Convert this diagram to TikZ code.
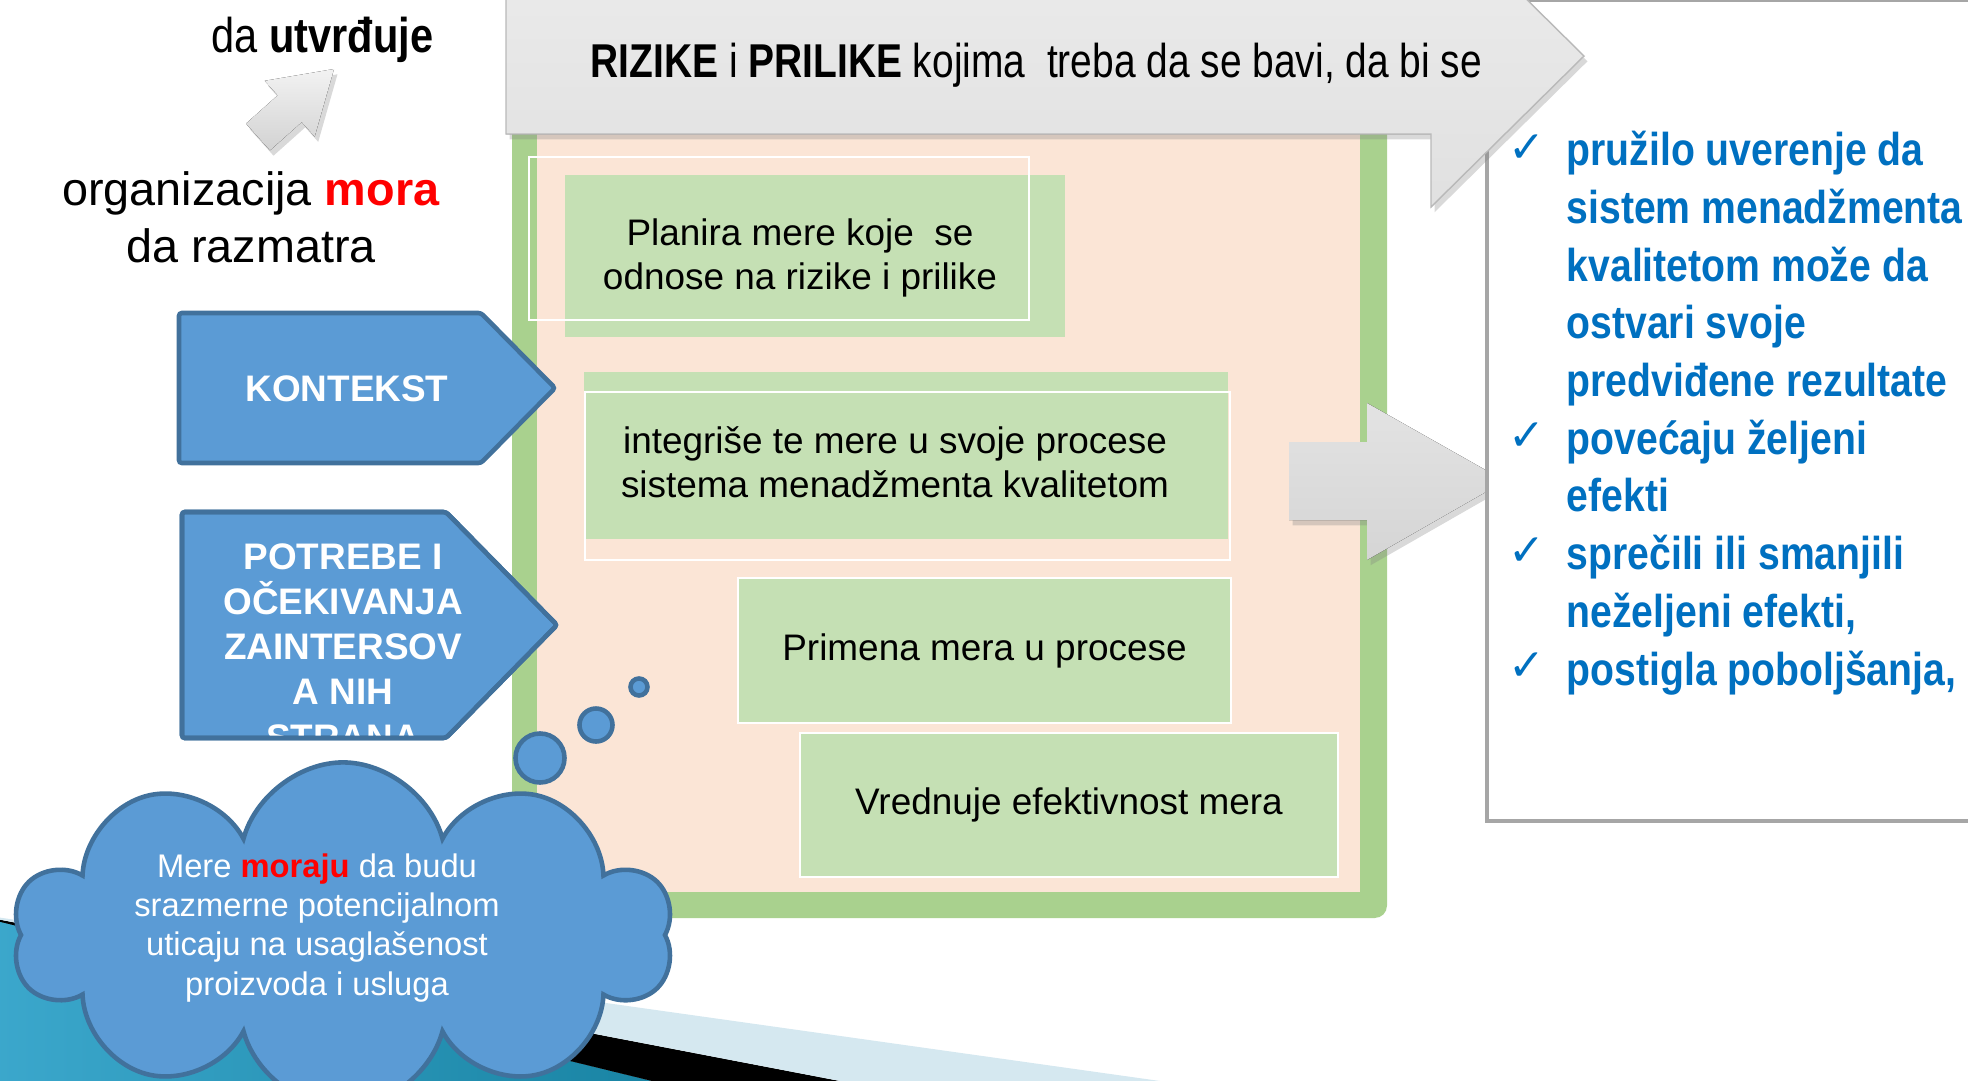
\documentclass[tikz,border=0pt]{standalone}
\usepackage{fontspec}
\setmainfont{Liberation Sans}
\newfontfamily\narrowfont{Liberation Sans}[FakeStretch=0.82]
\newfontfamily\listfont{Liberation Sans}[FakeStretch=0.85]
\newfontfamily\tickfont{DejaVu Sans}
\usepackage{tikz}
\usetikzlibrary{calc,shadows,shapes.symbols}
\definecolor{peach}{HTML}{FBE5D6}
\definecolor{framegreen}{HTML}{A9D18E}
\definecolor{boxgreen}{HTML}{C5E0B4}
\definecolor{tagblue}{HTML}{5B9BD5}
\definecolor{tagedge}{HTML}{41719C}
\definecolor{listblue}{HTML}{0070C0}
\definecolor{panelgray}{HTML}{A6A6A6}
\definecolor{bandlight}{HTML}{D5E8F0}
\definecolor{tealdark}{HTML}{15809F}
\definecolor{teallight}{HTML}{3DA9CE}
\def\tagarrow[#1](#2,#3)(#4,#5)(#6){\draw[#1] (#2,#3) -- (#4,#3) -- (#6,{(#3+#5)/2}) -- (#4,#5) -- (#2,#5) -- cycle;}

\begin{document}
\begin{tikzpicture}[x=0.01cm, y=-0.01cm,
    tag/.style={fill=tagblue, draw=tagedge, line width=1.3pt, rounded corners=0.8pt},
    tagline/.style={draw=tagedge, line width=1.3pt, rounded corners=0.8pt},
    tagtext/.style={text=white, font=\bfseries\fontsize{10.5}{12.8}\selectfont, align=center, anchor=base, inner sep=0pt},
    rim/.style={draw=white, line width=0.7pt},
    boxtext/.style={font=\fontsize{10.5}{12.5}\selectfont, align=center, anchor=base, inner sep=0pt},
    stepbox/.style={fill=boxgreen, rim, font=\fontsize{10.5}{12.5}\selectfont, inner sep=0pt},
    bubble/.style={circle, fill=tagblue, draw=tagedge, line width=1.3pt, inner sep=0pt},
    tick/.style={anchor=base west, inner sep=0pt, text=listblue, font=\tickfont\fontsize{12.5}{12.5}\selectfont},
    softshade/.style={drop shadow={opacity=0.3, shadow xshift=1pt, shadow yshift=-1.5pt}}]
		%%%%% START %%%%%
		
		\useasboundingbox (0,0) rectangle (1968,1081);
		\clip (0,0) rectangle (1968,1081);
		
		\fill[left color=teallight, right color=tealdark] (-40,912) -- (730,1100) -- (-40,1100) -- cycle;
		\fill[black] (-40,912) -- (939,1100) -- (730,1100) -- cycle;
		\fill[bandlight] (-40,912) -- (1295,1100) -- (939,1100) -- cycle;
		
		\fill[framegreen, rounded corners=3.5pt] (512,100) rectangle (1387,918);
		\fill[peach] (537,100) rectangle (1360,892);
		
		\fill[boxgreen] (565,175) rectangle (1065,337);
		\draw[rim] (529,157) rectangle (1029,320);
		\node[boxtext] (plan) at (800,289) {Planira mere koje\ \ se\\odnose na rizike i prilike};
		
		\fill[boxgreen] (584,372) rectangle (1228,539);
		\draw[rim] (585,392) rectangle (1230,560);
		\node[boxtext] (merge) at (895,497) {integriše te mere u svoje procese\\sistema menadžmenta kvalitetom};
		
		\node[stepbox, minimum width=4.93cm, minimum height=1.45cm] (apply) at (984.5,650.5) {Primena mera u procese};
		\node[stepbox, minimum width=5.38cm, minimum height=1.44cm] (rate) at (1069,805) {Vrednuje efektivnost mera};
		
		\tagarrow[tag](179,313)(481,463)(555)
		\node[tagtext] (context) at (347,401) {KONTEKST};
		
		\tagarrow[tag](182,512)(446,738)(557)
		\begin{scope}
			\clip (182,512) -- (446,512) -- (557,625) -- (446,738) -- (182,738) -- cycle;
			\node[tagtext] (needs) at (343,750) {POTREBE I\\OČEKIVANJA\\ZAINTERSOV\\A NIH\\STRANA};
		\end{scope}
		\tagarrow[tagline](182,512)(446,738)(557)
		
		\fill[top color=gray!22, bottom color=gray!33, softshade] (1289,442) -- (1367,442) -- (1367,403) -- (1505,481) -- (1367,560) -- (1367,520) -- (1289,520) -- cycle;
		
		\fill[white] (1487,0) rectangle (2000,821);
		\draw[panelgray, line width=1.2pt] (2000,0) -- (1487,0) -- (1487,821) -- (2000,821);
		
		\fill[top color=gray!14, bottom color=gray!24, draw=gray!55, line width=0.4pt, softshade] (506,-95) -- (1431,-95) -- (1584,56) -- (1431,207) -- (1431,134) -- (506,134) -- cycle;
		\node[anchor=base west, inner sep=0pt, font=\narrowfont\fontsize{13.5}{16}\selectfont] (risks) at (590,77) {\textbf{RIZIKE} i \textbf{PRILIKE} kojima\ \ treba da se bavi, da bi se};
		
		\node[anchor=base west, inner sep=0pt, align=left, text=listblue, font=\listfont\bfseries\fontsize{13.1}{16.4}\selectfont] (goals) at (1566,685) {pružilo uverenje da\\sistem menadžmenta\\kvalitetom može da\\ostvari svoje\\predviđene rezultate\\povećaju željeni\\efekti\\sprečili ili smanjili\\neželjeni efekti,\\postigla poboljšanja,};
		\node[tick] (tickA) at (1508,162) {✓};
		\node[tick] (tickB) at (1508,450) {✓};
		\node[tick] (tickC) at (1508,565) {✓};
		\node[tick] (tickD) at (1508,680) {✓};
		
		\node[anchor=base west, inner sep=0pt, font=\listfont\fontsize{13.9}{16}\selectfont] (verb) at (211,52) {da \textbf{utvrđuje}};
		\fill[top color=gray!10, bottom color=gray!35, softshade] (246,123.6) -- (270,150.4) -- (301.7,122.1) -- (314.7,136.6) -- (334,69) -- (264.7,80.8) -- (277.7,95.3) -- cycle;
		\node[anchor=base, align=center, inner sep=0pt, font=\fontsize{13.3}{16.2}\selectfont] (org) at (251,262) {organizacija \textcolor{red}{\textbf{mora}}\\da razmatra};
		
		\node[cloud, cloud puffs=10, aspect=2, fill=tagblue, draw=tagedge, line width=1.3pt, minimum width=6.6cm, minimum height=3.45cm] (note) at (343,935) {};
		\node[bubble, minimum size=0.49cm] (puffA) at (540,758) {};
		\node[bubble, minimum size=0.33cm] (puffB) at (596,725) {};
		\node[bubble, minimum size=0.17cm] (puffC) at (639,687) {};
		\node[anchor=base, align=center, inner sep=0pt, text=white, font=\fontsize{9.3}{11.1}\selectfont] (notetext) at (317,995) {Mere \textcolor{red}{\textbf{moraju}} da budu\\srazmerne potencijalnom\\uticaju na usaglašenost\\proizvoda i usluga};
		
		%%%%% END %%%%%
\end{tikzpicture}
\end{document}
